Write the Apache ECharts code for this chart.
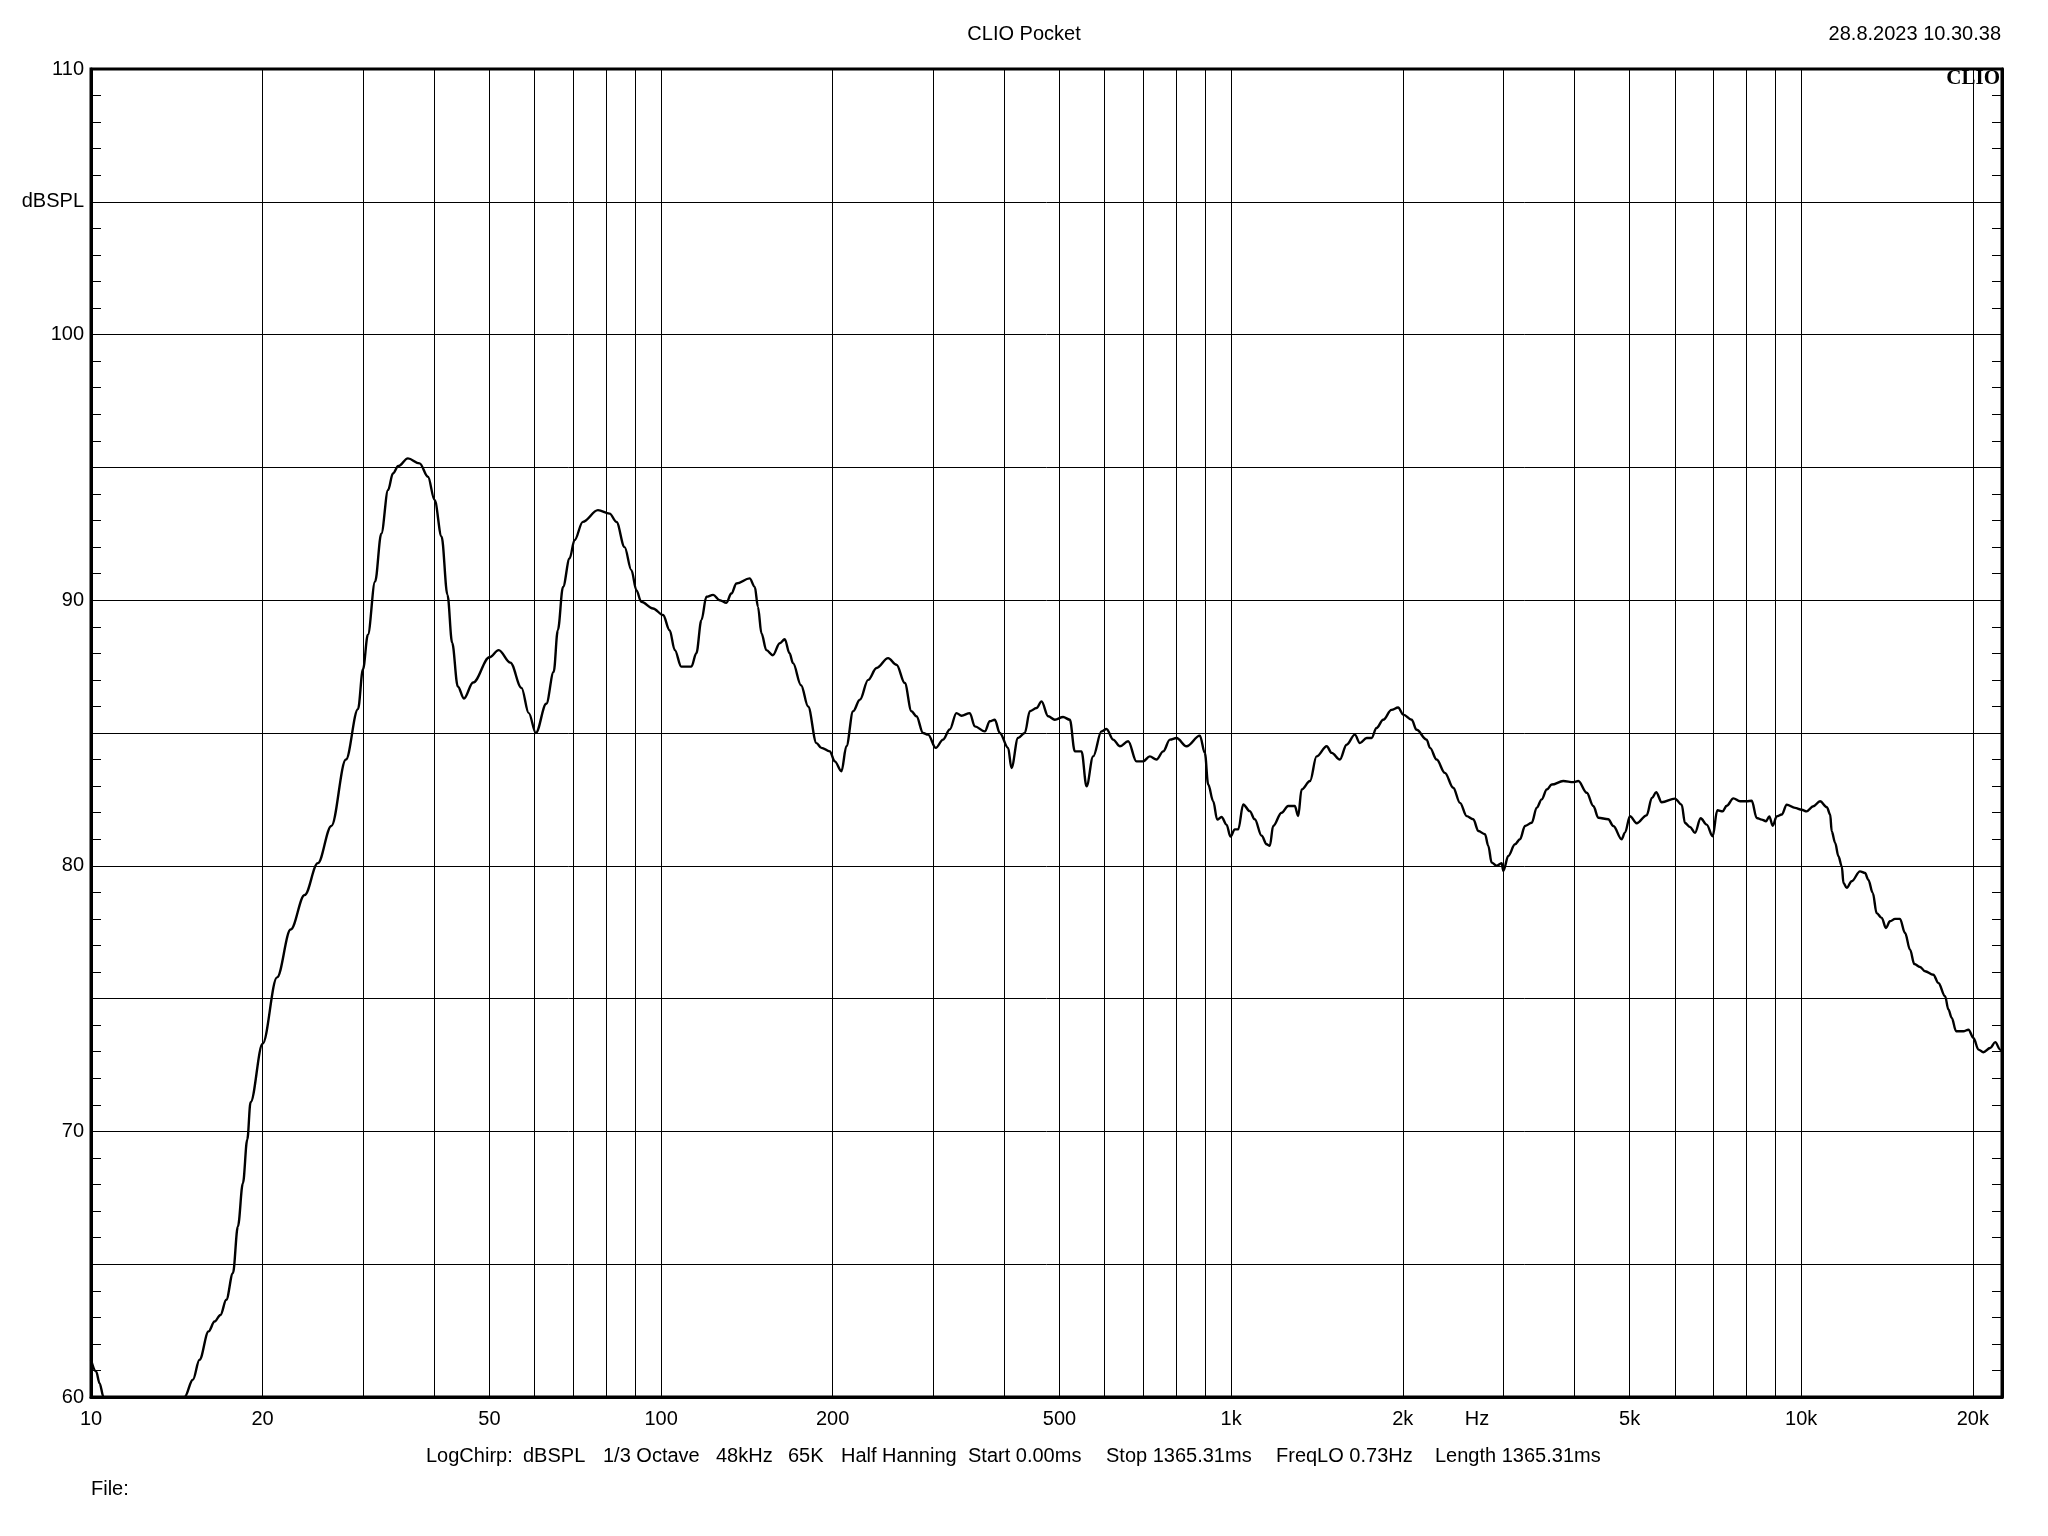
<!DOCTYPE html>
<html><head><meta charset="utf-8">
<script src="https://cdn.jsdelivr.net/npm/echarts@6/dist/echarts.min.js"></script>
<style>html,body{margin:0;padding:0;background:#fff}#c{width:2048px;height:1536px}</style>
</head><body><div id="c"></div>
<script>
// ---- DATA ----
const bassFreqHz = [10,10.21,10.35,10.52,11.2,13.8,14.59,15.09,15.5,16.08,16.47,16.87,17.27,17.74,18.1,18.47,18.8,19.05,20,21.2,22.4,23.7,25,26.4,28,29.4,30,30.6,31.5,32.3,33.2,33.85,34.6,35.97,37.7,39,40.06,41.2,42.2,43,44,45.1,46.8,50,51.9,54.4,56.9,58.6,60.3,62.9,64.8,65.9,67.3,69.1,70.5,72.9,77.5,81.25,83.5,86.3,88.7,90.5,92.3,96.8];
const bassSplDb  = [61.4,60.96,60.52,60.0,58.8,58.8,60.0,60.65,61.4,62.47,62.84,63.09,63.66,64.66,66.42,68.05,69.7,71.1,73.3,75.8,77.6,78.9,80.1,81.5,84.0,85.9,87.4,88.7,90.7,92.5,94.15,94.77,95.05,95.34,95.15,94.65,93.77,92.4,90.2,88.4,86.75,86.3,86.9,87.85,88.12,87.65,86.7,85.75,85.0,86.1,87.3,88.87,90.5,91.57,92.26,92.95,93.39,93.26,92.95,92.0,91.13,90.38,89.94,89.69];

const midFreqHz = [100.8,103.5,105.7,108.5,113,115.3,117.7,120.1,123.4,126.7,130.2,132.8,135.6,143,146,147.9,150,153,157.1,161.5,164.8,168,170.4,176,181.1,187.3,191.1,197.7,201.7,207.2,211.4,217.2,223.2,230.8,238.8,250.2,258.8,267.6,274.9,280.5,288.1,294,303.3,312.3,320.9,329.7,336.5,348,355.1,369.7,377.3,385,392.8,406.2,411.7,422.8,434.5,443.5,455.6,464.9,477.5,490.6,507.3,521.2,531.8,546.4,557.6,572.7,592.3,604.4,620.9,637.9,659.7,682.3,700.7,719.9,739.7,760,780.8,802.1,835.1,881.3,899.2,911.5,930,945.2,962,981.5];
const midSplDb  = [89.44,88.87,88.12,87.5,87.5,88.0,89.25,90.13,90.2,90.0,89.9,90.25,90.63,90.82,90.5,89.75,88.75,88.12,87.93,88.38,88.53,88.0,87.63,86.8,86.0,84.62,84.44,84.31,83.93,83.56,84.5,85.82,86.25,87.0,87.45,87.82,87.57,86.88,85.82,85.63,85.0,84.94,84.44,84.75,85.13,85.75,85.65,85.75,85.25,85.06,85.44,85.5,85.0,84.44,83.68,84.81,85.0,85.82,85.94,86.19,85.63,85.5,85.6,85.5,84.31,84.31,82.99,84.12,85.06,85.15,84.75,84.5,84.69,83.93,83.93,84.12,84.0,84.31,84.75,84.81,84.5,84.9,84.25,83.06,82.43,81.74,81.84,81.55];

const upperFreqHz = [997,1015,1029,1050,1078,1100,1131,1154,1169,1185,1226,1259,1293,1311,1329,1375,1412,1471,1501,1551,1594,1648,1682,1729,1763,1799,1848,1911,1963,2004,2073,2115,2202,2233,2293,2371,2452,2520,2589,2659,2714,2788,2825,2864,2922,2982,3002,3063,3147,3211,3277,3367,3436,3506,3578,3651,3824,3983,4065,4205,4318,4406,4587,4681,4842,4907];
const upperSplDb  = [81.1,81.37,81.37,82.31,82.06,81.75,81.13,80.81,80.75,81.5,82.0,82.25,82.25,81.87,82.87,83.19,84.12,84.5,84.25,84.0,84.56,84.94,84.62,84.81,84.81,85.19,85.5,85.87,85.96,85.69,85.5,85.12,84.75,84.44,84.0,83.5,82.94,82.37,81.87,81.75,81.31,81.19,80.75,80.12,80.0,80.1,79.81,80.37,80.81,81.0,81.5,81.62,82.19,82.5,82.87,83.06,83.19,83.15,83.19,82.75,82.25,81.81,81.75,81.5,81.0,81.25];

const trebleFreqHz = [5007,5144,5356,5470,5565,5692,6004,6170,6253,6381,6511,6662,6825,6992,7125,7281,7400,7602,7810,8024,8188,8354,8524,8675,8792,8912,9057,9243,9432,9754,10020,10220,10500,10790,11090,11240,11310,11470,11620,11780,11860,12020,12260,12680,12940,13110,13350,13560,13840,14080,14310,14610,14900,15210,15520,15790,16160,16490,17050,17400,17880,18120,18370,18690,19250,19650,20050,20460,20870,21450,21890,22340,22500];
const trebleSplDb  = [81.87,81.6,81.9,82.55,82.77,82.39,82.53,82.3,81.61,81.46,81.24,81.79,81.55,81.11,82.09,82.05,82.26,82.54,82.43,82.43,82.45,81.8,81.74,81.68,81.86,81.51,81.86,81.93,82.3,82.18,82.11,82.05,82.24,82.43,82.21,81.93,81.3,80.86,80.36,79.98,79.35,79.17,79.42,79.79,79.73,79.48,78.98,78.22,78.04,77.66,77.91,78.0,78.0,77.47,76.84,76.3,76.19,76.03,75.9,75.59,75.09,74.59,74.27,73.77,73.77,73.83,73.52,73.08,72.98,73.14,73.36,73.08,73.0];

// axis / grid values
const gridFreqs = [20,30,40,50,60,70,80,90,100,200,300,400,500,600,700,800,900,1000,2000,3000,4000,5000,6000,7000,8000,9000,10000,20000];
const xTickValues = [10,20,50,100,200,500,1000,2000,2700,5000,10000,20000];
const xTickTexts  = ['10','20','50','100','200','500','1k','2k','Hz','5k','10k','20k'];
const yTickValues = [110,105,100,90,80,70,60];
const yTickTexts  = ['110','dBSPL','100','90','80','70','60'];

const titleText = 'CLIO Pocket';
const dateText = '28.8.2023 10.30.38';
const brandText = 'CLIO';
const infoTexts = ['LogChirp:','dBSPL','1/3 Octave','48kHz','65K','Half Hanning','Start 0.00ms','Stop 1365.31ms','FreqLO 0.73Hz','Length 1365.31ms'];
const fileText = 'File:';

// ---- LAYOUT ----
const infoX = [426,523,603,716,788,841,968,1106,1276,1435];
const FONT = '"Liberation Sans", Arial, sans-serif';

const freqHz = bassFreqHz.concat(midFreqHz, upperFreqHz, trebleFreqHz);
const splDb = bassSplDb.concat(midSplDb, upperSplDb, trebleSplDb);
const seriesData = freqHz.map((f, i) => [f, splDb[i]]);

const xLabelOf = {};
xTickValues.forEach((v, i) => { xLabelOf[v] = xTickTexts[i]; });
const vLines = gridFreqs.map(f => ({
  xAxis: f,
  label: xLabelOf[f] ? { show: true, formatter: xLabelOf[f] } : { show: false }
}));
xTickValues.forEach((v, i) => {
  if (gridFreqs.indexOf(v) < 0) {
    vLines.push({ xAxis: v, lineStyle: { color: 'rgba(0,0,0,0)', width: 0 }, label: { show: true, formatter: xTickTexts[i], color: '#000' } });
  }
});
const yLabelOf = {};
yTickValues.forEach((v, i) => { yLabelOf[v] = yTickTexts[i]; });

const chart = echarts.init(document.getElementById('c'), null, { renderer: 'canvas' });
const graphic = [
  { type: 'text', x: 1024, y: 34, style: { text: titleText, font: '20px ' + FONT, fill: '#000', align: 'center', verticalAlign: 'middle', textAlign: 'center', textVerticalAlign: 'middle' } },
  { type: 'text', x: 2001, y: 34, style: { text: dateText, font: '20px ' + FONT, fill: '#000', align: 'right', verticalAlign: 'middle', textAlign: 'right', textVerticalAlign: 'middle' } },
  { type: 'text', x: 2000, y: 79, z: 100, style: { text: brandText, font: 'bold 21px "Liberation Serif", "Times New Roman", serif', fill: '#000', align: 'right', verticalAlign: 'middle', textAlign: 'right', textVerticalAlign: 'middle' } },
  { type: 'text', x: 91, y: 1489, style: { text: fileText, font: '20px ' + FONT, fill: '#000', align: 'left', verticalAlign: 'middle', textAlign: 'left', textVerticalAlign: 'middle' } }
];
infoTexts.forEach((t, i) => {
  graphic.push({ type: 'text', x: infoX[i], y: 1456, style: { text: t, font: '20px ' + FONT, fill: '#000', align: 'left', verticalAlign: 'middle', textAlign: 'left', textVerticalAlign: 'middle' } });
});

const yCommon = {
  type: 'value', min: 60, max: 110, interval: 5,
  axisLine: { show: true, lineStyle: { color: '#000', width: 3 } },
  axisTick: { show: true, inside: true, length: 10, lineStyle: { color: '#000', width: 1 } },
  minorTick: { show: true, splitNumber: 5, length: 10, lineStyle: { color: '#000', width: 1 } },
  minorSplitLine: { show: false }
};

chart.setOption({
  animation: false,
  backgroundColor: '#fff',
  grid: { left: 91, right: 46, top: 69, bottom: 139, show: true, borderColor: '#000', borderWidth: 3, containLabel: false },
  xAxis: {
    type: 'log', logBase: 10, min: 10, max: 22500,
    axisLine: { show: true, onZero: false, lineStyle: { color: '#000', width: 3 } },
    axisTick: { show: false }, axisLabel: { show: false }, splitLine: { show: false }, minorTick: { show: false }
  },
  yAxis: [
    Object.assign({}, yCommon, {
      position: 'left',
      splitLine: { show: true, lineStyle: { color: '#000', width: 1 } },
      axisLabel: { show: true, color: '#000', fontSize: 20, fontFamily: FONT, margin: 7,
        formatter: v => (yLabelOf[v] !== undefined ? yLabelOf[v] : '') }
    }),
    Object.assign({}, yCommon, {
      position: 'right',
      splitLine: { show: false },
      axisLabel: { show: false }
    })
  ],
  series: [{
    type: 'line', data: seriesData, xAxisIndex: 0, yAxisIndex: 0,
    showSymbol: false, symbol: 'none', smooth: 0.35, smoothMonotone: 'x', clip: true,
    lineStyle: { color: '#000', width: 2.4 },
    silent: true,
    markLine: {
      silent: true, symbol: ['none', 'none'], animation: false, precision: 10,
      lineStyle: { color: '#000', width: 1, type: 'solid' },
      label: { position: 'start', distance: 12, color: '#000', fontSize: 20, fontFamily: FONT },
      emphasis: { disabled: true },
      data: vLines
    }
  }],
  graphic: graphic
});
</script>
</body></html>
